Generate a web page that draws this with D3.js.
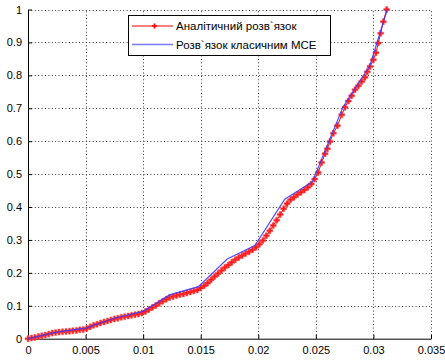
<!DOCTYPE html>
<html><head><meta charset="utf-8">
<script src="https://cdn.jsdelivr.net/npm/d3@7"></script>
<style>body{margin:0;background:#fff}svg{display:block}text{font-family:"Liberation Sans",Arial,sans-serif}</style>
</head><body><svg id="c" width="445" height="361"></svg>
<script>
const seriesNames = ["Аналітичний розв`язок", "Розв`язок класичним МСЕ"];
const xTicks = [0, 0.005, 0.01, 0.015, 0.02, 0.025, 0.03, 0.035];
const yTicks = [0, 0.1, 0.2, 0.3, 0.4, 0.5, 0.6, 0.7, 0.8, 0.9, 1];
const analyticX = [0,0.0003,0.0006,0.0009,0.0012,0.0015,0.0018,0.0021,0.0024,0.0027,0.003,0.0033,0.0036,0.0039,0.0042,0.0045,0.0048,0.0051,0.0054,0.0057,0.006,0.0063,0.0066,0.0069,0.0072,0.0075,0.0078,0.0081,0.0084,0.0087,0.009,0.0093,0.0096,0.0099,0.0102,0.0105,0.0108,0.0111,0.0114,0.0117,0.012,0.0123,0.0126,0.0129,0.0132,0.0135,0.0138,0.0141,0.0144,0.0147,0.015,0.0153,0.0156,0.0159,0.0162,0.0165,0.0168,0.0171,0.0174,0.0177,0.018,0.0183,0.0186,0.0189,0.0192,0.0195,0.0198,0.0201,0.0204,0.0207,0.021,0.0213,0.0216,0.0219,0.0222,0.0225,0.0228,0.0231,0.0234,0.0237,0.024,0.0243,0.0246,0.0249,0.0252,0.0255,0.0258,0.026,0.02623,0.02652,0.02687,0.02725,0.02753,0.02782,0.02811,0.0284,0.02869,0.02898,0.02927,0.02947,0.0297,0.02999,0.03022,0.03042,0.03063,0.03086,0.03115];
const analyticY = [0,0.002,0.004,0.007,0.009,0.011,0.014,0.017,0.019,0.02,0.021,0.022,0.023,0.024,0.025,0.027,0.028,0.031,0.036,0.041,0.044,0.048,0.051,0.054,0.057,0.06,0.062,0.065,0.067,0.069,0.071,0.073,0.075,0.078,0.083,0.089,0.095,0.101,0.108,0.114,0.12,0.125,0.128,0.131,0.134,0.136,0.139,0.142,0.145,0.148,0.154,0.161,0.169,0.179,0.189,0.198,0.207,0.216,0.224,0.232,0.24,0.247,0.253,0.259,0.264,0.27,0.278,0.287,0.298,0.313,0.328,0.344,0.36,0.377,0.395,0.41,0.422,0.43,0.438,0.445,0.452,0.46,0.47,0.485,0.505,0.535,0.562,0.577,0.599,0.624,0.647,0.68,0.703,0.722,0.738,0.756,0.768,0.781,0.794,0.811,0.827,0.847,0.869,0.898,0.928,0.963,1.0];
const femX = [0,0.0025,0.005,0.0075,0.01,0.0123,0.0148,0.0173,0.0197,0.0223,0.0247,0.02735,0.0297,0.0312];
const femY = [0,0.02,0.032,0.062,0.083,0.133,0.158,0.242,0.283,0.424,0.477,0.703,0.83,1.0];

const svg = d3.select("#c");
const L=28, R=431, T=9.5, B=338.7;
const x = d3.scaleLinear().domain([0,0.035]).range([L,R]);
const y = d3.scaleLinear().domain([0,1]).range([B,T]);

// grid
const g = svg.append("g");
g.selectAll(".gx").data(xTicks.slice(1)).enter().append("line")
 .attr("x1",d=>Math.round(x(d))+0.5).attr("x2",d=>Math.round(x(d))+0.5).attr("y1",B).attr("y2",T)
 .attr("stroke","#333").attr("stroke-width",1).attr("stroke-dasharray","1,2.4");
g.selectAll(".gy").data(yTicks.slice(1)).enter().append("line")
 .attr("y1",d=>Math.round(y(d))+0.5).attr("y2",d=>Math.round(y(d))+0.5).attr("x1",L).attr("x2",R)
 .attr("stroke","#333").attr("stroke-width",1).attr("stroke-dasharray","1,2.4");

// axes
const xa = svg.append("g").attr("transform",`translate(0,${B})`)
 .call(d3.axisBottom(x).tickValues(xTicks).tickFormat(d=>d===0?"0":String(+d.toFixed(3))).tickSizeInner(-4).tickSizeOuter(0).tickPadding(8));
const ya = svg.append("g").attr("transform",`translate(${L},0)`)
 .call(d3.axisLeft(y).tickValues(yTicks).tickFormat(d=>d===0?"0":d===1?"1":String(+d.toFixed(1))).tickSizeInner(-4).tickSizeOuter(0).tickPadding(6));
[xa,ya].forEach(a=>{a.select(".domain").attr("stroke","#000");a.selectAll(".tick line").attr("stroke","#000");
 a.selectAll("text").attr("font-size","11px").attr("fill","#000").style("font-family","Liberation Sans, Arial, sans-serif");});

// analytic series
const red = analyticX.map((v,i)=>[v,analyticY[i]]);
const blue = femX.map((v,i)=>[v,femY[i]]);
const line = d3.line().x(d=>x(d[0])).y(d=>y(d[1]));
svg.append("path").datum(red).attr("d",line).attr("fill","none").attr("stroke","#ff0000").attr("stroke-width",1);
svg.selectAll(".mk").data(red).enter().append("path")
 .attr("transform",d=>`translate(${x(d[0])},${y(d[1])})`)
 .attr("d",d3.symbol().type(d3.symbolCross).size(20)).attr("fill","#ff1a1a").attr("stroke","#ff5555").attr("stroke-width",0.5);
svg.append("path").datum(blue).attr("d",line).attr("fill","none").attr("stroke","#3a3aff").attr("stroke-width",1.2).attr("opacity",0.9);

// legend
const lg = svg.append("g");
lg.append("rect").attr("x",128.5).attr("y",15.5).attr("width",202).attr("height",40).attr("fill","#fff").attr("stroke","#000");
lg.append("line").attr("x1",132).attr("x2",173).attr("y1",26).attr("y2",26).attr("stroke","#ff0000");
lg.append("path").attr("transform","translate(154.5,26)").attr("d",d3.symbol().type(d3.symbolCross).size(14)).attr("fill","#ff0000");
lg.append("line").attr("x1",132).attr("x2",173).attr("y1",44.5).attr("y2",44.5).attr("stroke","#7a7aff").attr("stroke-width",1.6);
lg.selectAll("text").data(seriesNames).enter().append("text")
 .attr("x",176).attr("y",(d,i)=>i===0?30:48.5).attr("font-size","11.5px").attr("fill","#000").text(d=>d);
</script></body></html>
